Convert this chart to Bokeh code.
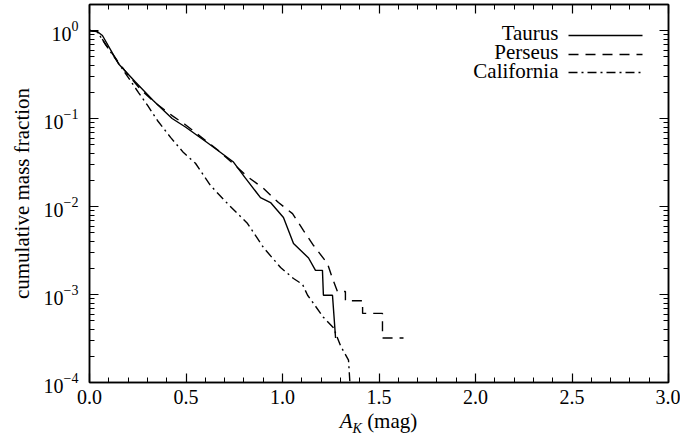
import numpy as np
from bokeh.plotting import figure
from bokeh.layouts import column
from bokeh.models import (Range1d, LinearAxis, LogAxis, FixedTicker, Label, Arrow,
                          CustomJSTickFormatter, NumeralTickFormatter, LogTickFormatter, Div)
from bokeh.embed import file_html
from bokeh.resources import INLINE

# ---- data ----
taurus_ak = [0.0, 0.04, 0.067, 0.15, 0.238, 0.33, 0.428, 0.497, 0.611, 0.746, 0.808, 0.886,
             0.938, 1.005, 1.057, 1.135, 1.171, 1.207, 1.212, 1.259, 1.275]
taurus_frac = [1.0, 0.975, 0.877, 0.42, 0.26, 0.16, 0.1, 0.08, 0.053, 0.032, 0.021, 0.0126,
               0.0111, 0.0075, 0.0038, 0.0026, 0.00188, 0.00188, 0.00098, 0.00098, 0.00032]

perseus_ak = [0.0, 0.04, 0.083, 0.145, 0.197, 0.264, 0.342, 0.43, 0.497, 0.668, 0.824,
              0.902, 0.979, 1.052, 1.109, 1.161, 1.233, 1.259, 1.285, 1.326, 1.326,
              1.415, 1.415, 1.518, 1.518, 1.627]
perseus_frac = [1.0, 0.975, 0.70, 0.45, 0.32, 0.215, 0.15, 0.107, 0.085, 0.0433, 0.0214,
                0.016, 0.0111, 0.0083, 0.00533, 0.0036, 0.00225, 0.00152, 0.00108, 0.00108,
                0.00085, 0.00085, 0.00061, 0.00061, 0.00032, 0.00032]

california_ak = [0.0, 0.04, 0.083, 0.15, 0.187, 0.254, 0.301, 0.352, 0.42, 0.487, 0.549,
                 0.627, 0.715, 0.819, 0.902, 0.99, 1.057, 1.104, 1.13, 1.161, 1.212,
                 1.264, 1.301, 1.342, 1.352]
california_frac = [1.0, 0.975, 0.69, 0.427, 0.324, 0.197, 0.141, 0.095, 0.061, 0.041, 0.031,
                   0.0173, 0.0108, 0.0064, 0.0034, 0.00203, 0.00152, 0.0013, 0.00098, 0.00079,
                   0.00055, 0.00042, 0.00026, 0.00018, 0.00008]

series_names = ["Taurus", "Perseus", "California"]
x_major = [0.0, 0.5, 1.0, 1.5, 2.0, 2.5, 3.0]
y_major = [1e-4, 1e-3, 1e-2, 1e-1, 1.0]

FONT = "Liberation Serif"

p = figure(width=680, height=411, output_backend="svg", toolbar_location=None, title=None,
           x_range=Range1d(0, 3), y_range=Range1d(1e-4, 1.975), y_axis_type="log",
           min_border_left=89, min_border_top=4, min_border_right=12, min_border_bottom=29)
p.background_fill_color = "white"
p.border_fill_color = "white"
p.outline_line_color = "black"
p.outline_line_width = 1.5
p.xgrid.visible = False
p.ygrid.visible = False

x_minor = [round(i * 0.1, 1) for i in range(31)]
y_minor = [k * m for m in y_major[:-1] for k in range(2, 10)] + [k * 1.0 for k in range(2, 10)]
blank = CustomJSTickFormatter(code="return ''")

def style_axis(ax):
    ax.axis_line_color = "black"
    ax.axis_line_width = 1.5
    ax.major_tick_line_color = "black"
    ax.minor_tick_line_color = "black"
    ax.major_tick_line_width = 1.2
    ax.minor_tick_line_width = 1.0
    ax.major_tick_in = 9
    ax.major_tick_out = 0
    ax.minor_tick_in = 5
    ax.minor_tick_out = 0

xa = p.xaxis[0]
xa.ticker = FixedTicker(ticks=x_major, minor_ticks=x_minor)
xa.formatter = NumeralTickFormatter(format="0.0")
style_axis(xa)
xa.major_label_text_font = FONT
xa.major_label_text_font_size = "20px"
xa.major_label_text_color = "black"
xa.major_label_standoff = 7

ya = p.yaxis[0]
ya.ticker = FixedTicker(ticks=y_major, minor_ticks=y_minor)
ya.formatter = LogTickFormatter()
style_axis(ya)
ya.major_label_text_font = FONT
ya.major_label_text_font_size = "20px"
ya.major_label_text_color = "black"
ya.major_label_standoff = 11
ya.axis_label = "cumulative mass fraction"
ya.axis_label_text_font = FONT
ya.axis_label_text_font_style = "normal"
ya.axis_label_text_font_size = "21px"
ya.axis_label_text_color = "black"
ya.axis_label_standoff = 7

top = LinearAxis(ticker=FixedTicker(ticks=x_major, minor_ticks=x_minor), formatter=blank)
style_axis(top)
top.major_label_standoff = 0
top.major_label_text_font_size = "1px"
p.add_layout(top, "above")
right = LogAxis(ticker=FixedTicker(ticks=y_major, minor_ticks=y_minor), formatter=blank)
style_axis(right)
right.major_label_standoff = 0
right.major_label_text_font_size = "1px"
p.add_layout(right, "right")

dashes = ["solid", "10 7", "9 4 2 4"]
xs = [taurus_ak, perseus_ak, california_ak]
ys = [taurus_frac, perseus_frac, california_frac]
for name, dash, xv, yv in zip(series_names, dashes, xs, ys):
    p.line(xv, yv, line_color="black", line_width=1.4, line_dash=dash)

# legend (text right-aligned, sample line on the right), frame-relative screen units
leg_text_y = [350, 331, 312]
leg_line_y = [347, 328, 310]
for name, dash, ty, ly in zip(series_names, dashes, leg_text_y, leg_line_y):
    p.add_layout(Label(x=469, y=ty, x_units="screen", y_units="screen", text=name,
                       text_font=FONT, text_font_size="21px", text_align="right",
                       text_baseline="alphabetic", text_color="black"))
    p.add_layout(Arrow(x_start=479, y_start=ly, x_end=553, y_end=ly,
                       start_units="screen", end_units="screen", start=None, end=None,
                       line_color="black", line_width=1.4, line_dash=dash))

xlabel = Div(
    text=("<div style=\"font-family:'Liberation Serif'; font-size:21px; line-height:20px; "
          "color:black; text-align:center; width:579px;\">"
          "<i>A</i><i style=\"font-size:14px; position:relative; top:5px;\">K</i> (mag)</div>"),
    width=579, height=26, margin=(0, 0, 0, 89))

layout = column(p, xlabel, spacing=0)
open("out.html", "w").write(file_html(layout, INLINE))
